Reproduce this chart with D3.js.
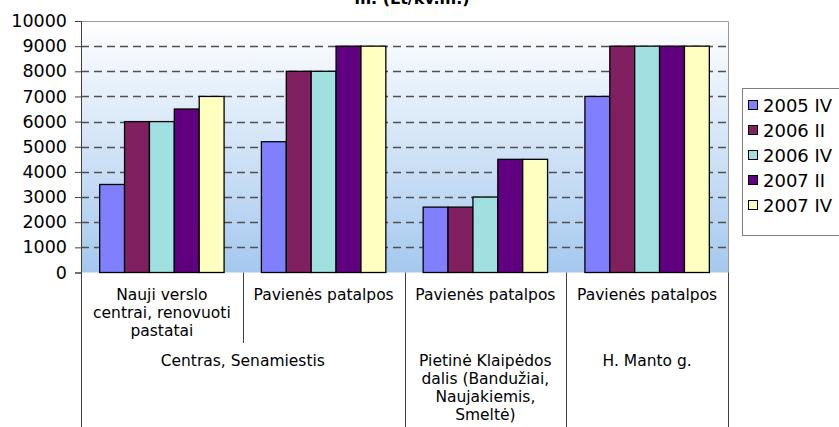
<!DOCTYPE html>
<html>
<head>
<meta charset="utf-8">
<script src="https://cdn.jsdelivr.net/npm/d3@7/dist/d3.min.js"></script>
<style>
  html, body { margin: 0; padding: 0; background: #fff; }
  svg { display: block; font-family: "DejaVu Sans", Verdana, sans-serif; }
</style>
</head>
<body>
<svg id="chart" width="839" height="427"></svg>
<script>
// Rental prices by district / premises type, Lt per sq. m.
const groups = ["g1", "g2", "g3", "g4"];
const subLabels = [
  ["Nauji verslo", "centrai, renovuoti", "pastatai"],
  ["Pavienės patalpos"],
  ["Pavienės patalpos"],
  ["Pavienės patalpos"]
];
const districtLabels = [
  { from: 0, to: 1, lines: ["Centras, Senamiestis"] },
  { from: 2, to: 2, lines: ["Pietinė Klaipėdos", "dalis (Bandužiai,", "Naujakiemis,", "Smeltė)"] },
  { from: 3, to: 3, lines: ["H. Manto g."] }
];
const seriesNames = ["2005 IV", "2006 II", "2006 IV", "2007 II", "2007 IV"];
const seriesColors = ["#8080ff", "#802060", "#a0e0e0", "#600080", "#ffffc0"];
const values2005IV = [3500, 5200, 2600, 7000];
const values2006II = [6000, 8000, 2600, 9000];
const values2006IV = [6000, 8000, 3000, 9000];
const values2007II = [6500, 9000, 4500, 9000];
const values2007IV = [7000, 9000, 4500, 9000];
const seriesValues = [values2005IV, values2006II, values2006IV, values2007II, values2007IV];
const yTicks = [0, 1000, 2000, 3000, 4000, 5000, 6000, 7000, 8000, 9000, 10000];

const svg = d3.select("#chart");
const plot = { left: 81, right: 728, top: 21, bottom: 272.5 };

const x0 = d3.scaleBand().domain(groups).range([plot.left, plot.right]).padding(0);
const x1 = d3.scaleBand().domain(seriesNames).range([0, x0.bandwidth()])
  .paddingInner(0).paddingOuter(0.75);
const y = d3.scaleLinear().domain([0, 10000]).range([plot.bottom, plot.top]);

// plot background gradient
const defs = svg.append("defs");
const grad = defs.append("linearGradient").attr("id", "bg")
  .attr("x1", 0).attr("y1", 0).attr("x2", 0).attr("y2", 1);
grad.append("stop").attr("offset", "0%").attr("stop-color", "#ffffff");
grad.append("stop").attr("offset", "100%").attr("stop-color", "#a4c8ee");

svg.append("rect")
  .attr("x", plot.left).attr("y", plot.top)
  .attr("width", plot.right - plot.left).attr("height", plot.bottom - plot.top)
  .attr("fill", "url(#bg)");

// plot border (top and right)
svg.append("path")
  .attr("d", `M${plot.left},${plot.top + 0.5}H${plot.right + 0.5}V${plot.bottom}`)
  .attr("fill", "none").attr("stroke", "#9a9a9a").attr("stroke-width", 1);

// dashed gridlines
svg.append("g").selectAll("line")
  .data(yTicks.filter(d => d > 0 && d < 10000))
  .join("line")
  .attr("x1", plot.left).attr("x2", plot.right)
  .attr("y1", d => Math.round(y(d)) + 0.5).attr("y2", d => Math.round(y(d)) + 0.5)
  .attr("stroke", "#505050").attr("stroke-width", 1.3)
  .attr("stroke-dasharray", "8,5");

// bars
const barG = svg.append("g");
groups.forEach((g, gi) => {
  seriesNames.forEach((s, si) => {
    const v = seriesValues[si][gi];
    barG.append("rect")
      .attr("x", x0(g) + x1(s))
      .attr("y", y(v))
      .attr("width", x1.bandwidth())
      .attr("height", y(0) - y(v))
      .attr("fill", seriesColors[si])
      .attr("stroke", "#000").attr("stroke-width", 1.3);
  });
});

// y axis
const yAxis = d3.axisLeft(y).tickValues(yTicks).tickSize(6).tickPadding(8).tickFormat(d3.format("d"));
const yg = svg.append("g").attr("transform", `translate(${plot.left},0)`).call(yAxis);
yg.select(".domain").attr("stroke", "#404040");
yg.selectAll(".tick line").attr("stroke", "#404040");
yg.selectAll(".tick text").attr("font-size", 17.5).attr("fill", "#000")
  .attr("font-family", "'DejaVu Sans', sans-serif");

// category table below the plot
const table = svg.append("g");
const lineColor = "#404040";
const tableLines = [
  { x: plot.left, y2: 427 },
  { x: x0("g2"), y2: 343 },
  { x: x0("g3"), y2: 427 },
  { x: x0("g4"), y2: 427 },
  { x: plot.right, y2: 427 }
];
table.selectAll("line").data(tableLines).join("line")
  .attr("x1", d => Math.round(d.x) + 0.5).attr("x2", d => Math.round(d.x) + 0.5)
  .attr("y1", plot.bottom).attr("y2", d => d.y2)
  .attr("stroke", lineColor).attr("stroke-width", 1);

const lineH = 18;
const catFont = 15.5;
groups.forEach((g, gi) => {
  const t = table.append("text")
    .attr("text-anchor", "middle").attr("font-size", catFont).attr("fill", "#000");
  subLabels[gi].forEach((ln, li) => {
    t.append("tspan").attr("x", x0(g) + x0.bandwidth() / 2).attr("y", 300 + li * lineH).text(ln);
  });
});
districtLabels.forEach(d => {
  const cx = (x0(groups[d.from]) + x0(groups[d.to]) + x0.bandwidth()) / 2;
  const t = table.append("text")
    .attr("text-anchor", "middle").attr("font-size", catFont).attr("fill", "#000");
  d.lines.forEach((ln, li) => {
    t.append("tspan").attr("x", cx).attr("y", 366 + li * lineH).text(ln);
  });
});

// title (only its last line falls inside the view)
svg.append("text")
  .attr("x", 412).attr("y", 3.5).attr("text-anchor", "middle")
  .attr("font-size", 16).attr("font-weight", "bold").attr("fill", "#000")
  .text("m. (Lt/kv.m.)");

// legend
const legend = svg.append("g").attr("transform", "translate(742,88)");
legend.append("rect")
  .attr("x", 0.5).attr("y", 0.5).attr("width", 110).attr("height", 147)
  .attr("fill", "#fff").attr("stroke", "#808080");
seriesNames.forEach((s, i) => {
  const row = legend.append("g").attr("transform", `translate(6,${18 + i * 25})`);
  row.append("rect").attr("x", 0.5).attr("y", -5.5).attr("width", 9).attr("height", 9)
    .attr("fill", seriesColors[i]).attr("stroke", "#000").attr("stroke-width", 1);
  row.append("text").attr("x", 15).attr("y", 6).attr("font-size", 18).attr("fill", "#000").text(s);
});
</script>
</body>
</html>
